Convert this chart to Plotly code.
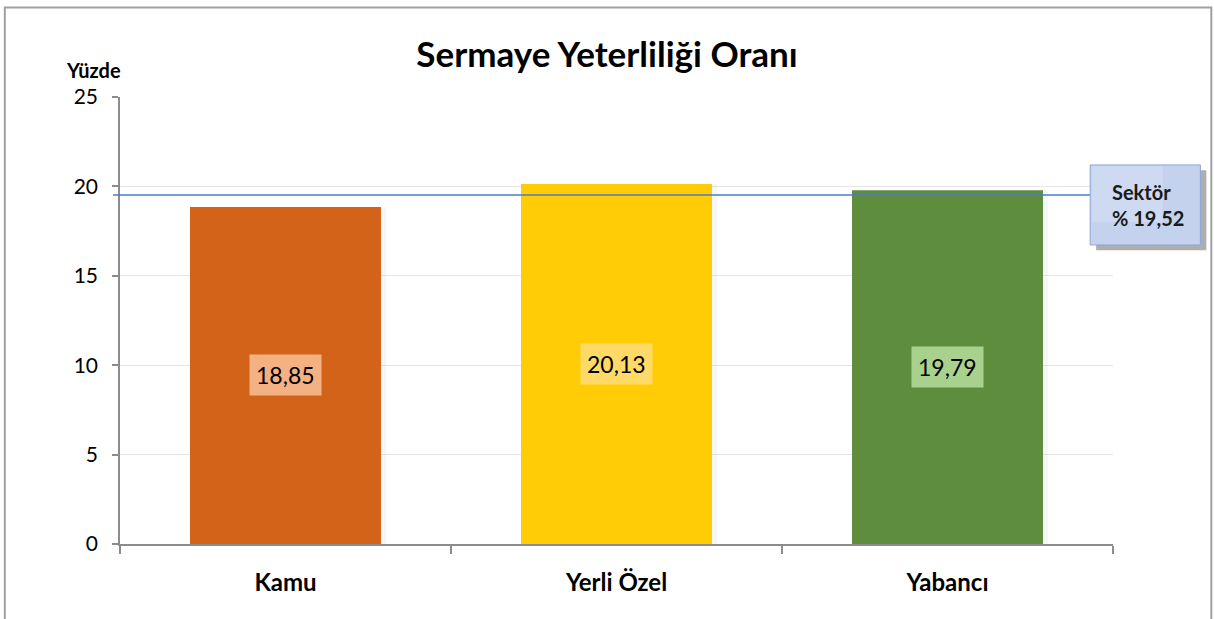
import plotly.graph_objects as go

# Sermaye yeterliliği oranı (yüzde) by bank group
categories = ["Kamu", "Yerli Özel", "Yabancı"]
values = [18.85, 20.13, 19.79]
value_labels = ["18,85", "20,13", "19,79"]
sector_value = 19.52
sector_label = "Sektör<br>% 19,52"
y_ticks = [0, 5, 10, 15, 20, 25]

bar_colors = ["#D4631A", "#FFCC05", "#5F8D3E"]
label_bg = ["#F4B183", "#FFDA66", "#A9D18E"]

FONT = "Lato"

fig = go.Figure()

# faint shadow on the right of each bar
fig.add_trace(go.Bar(
    x=categories, y=values, width=0.59, offset=-0.285,
    marker=dict(color="rgba(0,0,0,0.03)", line=dict(width=0)),
    hoverinfo="skip", showlegend=False,
))
fig.add_trace(go.Bar(
    x=categories, y=values, width=0.577, offset=-0.2885,
    marker=dict(color=bar_colors, line=dict(width=0)),
    showlegend=False,
))

# value labels at the middle of each bar
for cat, v, txt, bg in zip(categories, values, value_labels, label_bg):
    fig.add_annotation(
        x=cat, y=v / 2, xref="x", yref="y", text=txt, showarrow=False,
        font=dict(family=FONT, size=23, color="#000000"),
        bgcolor=bg, borderpad=6,
    )

# sector average line
fig.add_shape(type="line", xref="paper", yref="y",
              x0=-0.007, x1=0.977, y0=sector_value, y1=sector_value,
              line=dict(color="#4A7CC7", width=1.5))

# sector callout box with shadow
fig.add_shape(type="rect", xref="paper", yref="paper",
              x0=0.983, x1=1.094, y0=0.657, y1=0.836,
              fillcolor="#9A9A9A", line=dict(width=0), opacity=0.8)
fig.add_shape(type="rect", xref="paper", yref="paper",
              x0=0.977, x1=1.088, y0=0.669, y1=0.848,
              fillcolor="#C4D2EE", line=dict(color="#8EA6D6", width=1))
fig.add_shape(type="rect", xref="paper", yref="paper",
              x0=0.979, x1=1.05, y0=0.72, y1=0.845,
              fillcolor="rgba(255,255,255,0.18)", line=dict(width=0))
fig.add_annotation(
    xref="paper", yref="paper", x=0.997, y=0.758, xanchor="left",
    yanchor="middle", align="left", text="<b>" + sector_label + "</b>",
    showarrow=False, font=dict(family=FONT, size=20, color="#1A1A1A"),
)

# axis caption
fig.add_annotation(
    xref="paper", yref="paper", x=-0.027, y=1.06, xanchor="center",
    yanchor="middle", text="<b>Yüzde</b>", showarrow=False,
    font=dict(family=FONT, size=20, color="#000000"),
)

# outer frame
fig.add_shape(type="rect", xref="paper", yref="paper",
              x0=-0.116, x1=1.099, y0=-0.2, y1=1.2,
              line=dict(color="#A0A0A0", width=2), fillcolor="rgba(0,0,0,0)")

fig.update_layout(
    width=1214, height=619,
    margin=dict(l=120, r=101, t=97, b=75),
    paper_bgcolor="white", plot_bgcolor="white",
    title=dict(text="<b>Sermaye Yeterliliği Oranı</b>", x=0.5, xanchor="center",
               y=0.912, yanchor="middle",
               font=dict(family=FONT, size=35, color="#000000")),
    bargap=0.42, barmode="overlay",
    xaxis=dict(
        type="category", showgrid=False, showline=True, linecolor="#8C8C8C",
        linewidth=1.5, ticks="outside", tickson="boundaries", ticklen=8,
        tickcolor="#8C8C8C", tickwidth=1.5,
        tickfont=dict(family=FONT, size=24, color="#000000", weight="bold"),
        ticklabelstandoff=16, range=[-0.5, 2.5],
    ),
    yaxis=dict(
        range=[0, 25], tickvals=y_ticks, ticktext=[str(t) for t in y_ticks],
        showgrid=True, gridcolor="#E6E6E6", gridwidth=1,
        showline=True, linecolor="#8C8C8C", linewidth=1.5,
        ticks="outside", ticklen=6, tickcolor="#8C8C8C", tickwidth=1.5,
        tickfont=dict(family=FONT, size=21, color="#000000"),
        ticklabelstandoff=10, zeroline=False,
    ),
)

fig.write_html("out.html")
